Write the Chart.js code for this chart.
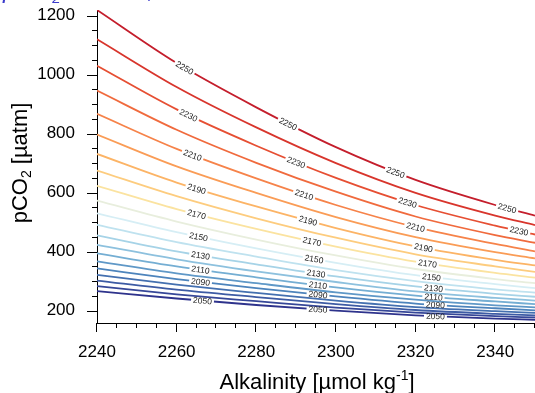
<!DOCTYPE html>
<html><head><meta charset="utf-8">
<script src="https://cdn.jsdelivr.net/npm/chart.js@4.4.0/dist/chart.umd.min.js"></script>
<style>html,body{margin:0;padding:0;background:#fff;overflow:hidden}#wrap{position:relative;width:535px;height:393px}canvas{display:block}</style>
</head><body><div id="wrap"><canvas id="c" width="535" height="393"></canvas></div>
<script>
// ---- data ----
const alkalinity = [2240, 2260, 2280, 2300, 2320, 2340, 2350];   // x samples, umol/kg
const dicLevels  = [2050, 2060, 2070, 2080, 2090, 2100, 2110, 2120, 2130, 2140,
                    2150, 2160, 2170, 2180, 2190, 2200, 2210, 2220, 2230, 2240, 2250];
const pco2_2050 = [266, 241, 219, 200, 184, 173, 169];
const pco2_2060 = [283, 255, 232, 210, 193, 181, 177];
const pco2_2070 = [302, 271, 246, 222, 202, 189, 184];
const pco2_2080 = [321, 288, 260, 234, 212, 198, 192];
const pco2_2090 = [343, 307, 276, 248, 224, 208, 201];
const pco2_2100 = [367, 326, 293, 262, 237, 218, 211];
const pco2_2110 = [394, 350, 313, 279, 251, 231, 222];
const pco2_2120 = [423, 374, 333, 297, 265, 243, 234];
const pco2_2130 = [455, 401, 357, 316, 282, 257, 247];
const pco2_2140 = [491, 432, 383, 337, 300, 272, 261];
const pco2_2150 = [530, 466, 411, 362, 320, 290, 276];
const pco2_2160 = [573, 502, 441, 387, 341, 307, 293];
const pco2_2170 = [623, 544, 477, 417, 366, 328, 312];
const pco2_2180 = [675, 588, 513, 447, 391, 350, 331];
const pco2_2190 = [731, 634, 553, 480, 418, 372, 353];
const pco2_2200 = [797, 689, 599, 517, 449, 398, 377];
const pco2_2210 = [867, 748, 648, 558, 483, 426, 401];
const pco2_2220 = [946, 813, 701, 603, 519, 456, 430];
const pco2_2230 = [1030, 882, 759, 650, 558, 488, 458];
const pco2_2240 = [1120, 958, 821, 700, 599, 522, 490];
const pco2_2250 = [1219, 1039, 889, 754, 643, 558, 522];
const seriesValues = [pco2_2050, pco2_2060, pco2_2070, pco2_2080, pco2_2090, pco2_2100,
  pco2_2110, pco2_2120, pco2_2130, pco2_2140, pco2_2150, pco2_2160, pco2_2170, pco2_2180,
  pco2_2190, pco2_2200, pco2_2210, pco2_2220, pco2_2230, pco2_2240, pco2_2250];

// contour labels: which levels carry labels and at which alkalinity
const labelLevels = [2250, 2230, 2210, 2190, 2170, 2150, 2130, 2110, 2090, 2050];
const labelAlk = [
  [2262, 2288, 2315, 2343],
  [2263, 2290, 2318, 2346],
  [2264, 2292, 2320],
  [2265, 2293, 2322],
  [2265, 2294, 2323],
  [2265.5, 2294.5, 2324],
  [2266, 2295, 2324.5],
  [2266, 2295.5, 2324.5],
  [2266, 2295.5, 2325],
  [2266.5, 2295.5, 2325]
];
const yTicks = [200, 400, 600, 800, 1000, 1200];
const xTicks = [2240, 2260, 2280, 2300, 2320, 2340];

// ---- styles ----
const lineColors = ['#2e338c','#364798','#3d5ba4','#4470b0','#4d84bc','#5f98c7','#74aed3',
  '#8dc1de','#a6d3e7','#bfe2ef','#d6eef5','#e8eedd','#fbe3a0','#fdcc7e','#fcb466',
  '#fa9c56','#f6834a','#f06a3d','#e64f33','#d8352c','#c41e2c'];
const FONT = '"Liberation Sans", Arial, Helvetica, sans-serif';
Chart.defaults.font.family = FONT;
Chart.defaults.color = '#000';

const datasets = dicLevels.map((d, i) => ({
  label: String(d),
  data: alkalinity.map((a, j) => ({x: a, y: seriesValues[i][j]})),
  borderColor: lineColors[i],
  borderWidth: 1.8,
  pointRadius: 0,
  fill: false,
  cubicInterpolationMode: 'monotone'
}));

function curvePoint(meta, px) {
  const pts = meta.data;
  for (let i = 0; i < pts.length - 1; i++) {
    const a = pts[i], b = pts[i + 1];
    if (px >= a.x && px <= b.x) {
      const c1x = a.cp2x ?? a.x, c1y = a.cp2y ?? a.y, c2x = b.cp1x ?? b.x, c2y = b.cp1y ?? b.y;
      const bx = t => { const u = 1 - t; return u*u*u*a.x + 3*u*u*t*c1x + 3*u*t*t*c2x + t*t*t*b.x; };
      let lo = 0, hi = 1;
      for (let k = 0; k < 40; k++) { const m = (lo + hi) / 2; if (bx(m) < px) lo = m; else hi = m; }
      const t = (lo + hi) / 2, u = 1 - t;
      const y = u*u*u*a.y + 3*u*u*t*c1y + 3*u*t*t*c2y + t*t*t*b.y;
      const dx = 3*u*u*(c1x-a.x) + 6*u*t*(c2x-c1x) + 3*t*t*(b.x-c2x);
      const dy = 3*u*u*(c1y-a.y) + 6*u*t*(c2y-c1y) + 3*t*t*(b.y-c2y);
      return {x: px, y: y, angle: Math.atan2(dy, dx)};
    }
  }
  return null;
}
const LABEL_FONT = '8.5px ' + FONT;
function labelItems(chart, dsIndex) {
  const li = labelLevels.indexOf(dicLevels[dsIndex]);
  if (li < 0) return [];
  const meta = chart.getDatasetMeta(dsIndex);
  meta.dataset.updateControlPoints(chart.chartArea, 'x');
  const xs = chart.scales.x;
  const ctx = chart.ctx;
  ctx.save(); ctx.font = LABEL_FONT;
  const tw = ctx.measureText(String(dicLevels[dsIndex])).width;
  ctx.restore();
  return labelAlk[li].map(a => {
    const p = curvePoint(meta, xs.getPixelForValue(a));
    return p ? Object.assign(p, {tw: tw, text: String(dicLevels[dsIndex])}) : null;
  }).filter(Boolean);
}

const contourLabels = {
  id: 'contourLabels',
  beforeDatasetDraw(chart, args) {
    const items = labelItems(chart, args.index);
    if (!items.length) return;
    const ctx = chart.ctx;
    ctx.save();
    ctx.beginPath();
    ctx.rect(0, 0, chart.width, chart.height);
    items.forEach(p => {
      const hw = p.tw / 2 + 2, hh = 5;
      const c = Math.cos(p.angle), s = Math.sin(p.angle);
      const pts = [[-hw,-hh],[hw,-hh],[hw,hh],[-hw,hh]].map(([u,v]) => [p.x + u*c - v*s, p.y + u*s + v*c]);
      ctx.moveTo(pts[0][0], pts[0][1]);
      for (let k = 1; k < 4; k++) ctx.lineTo(pts[k][0], pts[k][1]);
      ctx.closePath();
    });
    ctx.clip('evenodd');
    chart.$clipped = chart.$clipped || {};
    chart.$clipped[args.index] = true;
  },
  afterDatasetDraw(chart, args) {
    if (chart.$clipped && chart.$clipped[args.index]) {
      chart.ctx.restore();
      chart.$clipped[args.index] = false;
    }
  },
  afterDatasetsDraw(chart) {
    const ctx = chart.ctx;
    dicLevels.forEach((d, i) => {
      labelItems(chart, i).forEach(p => {
        ctx.save();
        ctx.translate(p.x, p.y);
        ctx.rotate(p.angle);
        ctx.font = LABEL_FONT;
        ctx.fillStyle = '#1a1a1a';
        ctx.textAlign = 'center';
        ctx.textBaseline = 'middle';
        ctx.fillText(p.text, 0, 0.5);
        ctx.restore();
      });
    });
  }
};

const decorations = {
  id: 'decorations',
  afterDraw(chart) {
    const ctx = chart.ctx;
    const xs = chart.scales.x, ys = chart.scales.y;
    const area = chart.chartArea;
    ctx.save();
    ctx.strokeStyle = '#000';
    ctx.lineWidth = 1;
    ctx.beginPath();
    for (let v = 200; v <= 1200; v += 50) {
      const y = Math.round(ys.getPixelForValue(v)) + 0.5;
      const len = (v % 200 === 0) ? 10 : 5;
      ctx.moveTo(area.left, y); ctx.lineTo(area.left - len, y);
    }
    for (let v = 2240; v <= 2350; v += 5) {
      const x = Math.round(xs.getPixelForValue(v)) - 0.5;
      const len = ((v - 2240) % 20 === 0) ? 9 : 5;
      ctx.moveTo(x, area.bottom); ctx.lineTo(x, area.bottom + len);
    }
    ctx.stroke();

    // y-axis title
    ctx.fillStyle = '#000';
    ctx.save();
    ctx.translate(21, 163);
    ctx.rotate(-Math.PI / 2);
    ctx.textBaseline = 'middle';
    const big = '22px ' + FONT, small = '14px ' + FONT;
    ctx.font = big; const w1 = ctx.measureText('pCO').width;
    ctx.font = small; const w2 = ctx.measureText('2').width;
    ctx.font = big; const w3 = ctx.measureText(' [\u00b5atm]').width;
    let x0 = -(w1 + w2 + w3) / 2;
    ctx.font = big; ctx.fillText('pCO', x0, 0);
    ctx.font = small; ctx.fillText('2', x0 + w1, 6);
    ctx.font = big; ctx.fillText(' [\u00b5atm]', x0 + w1 + w2, 0);
    ctx.restore();

    // x-axis title
    ctx.save();
    ctx.textBaseline = 'middle';
    ctx.font = big; const a1 = ctx.measureText('Alkalinity [\u00b5mol kg').width;
    ctx.font = small; const a2 = ctx.measureText('-1').width;
    ctx.font = big; const a3 = ctx.measureText(']').width;
    let xx = 317 - (a1 + a2 + a3) / 2;
    ctx.font = big; ctx.fillText('Alkalinity [\u00b5mol kg', xx, 383);
    ctx.font = small; ctx.fillText('-1', xx + a1, 376);
    ctx.font = big; ctx.fillText(']', xx + a1 + a2, 383);
    ctx.restore();

    // top title (mostly outside the picture)
    ctx.save();
    ctx.fillStyle = '#3b3bcc';
    ctx.textBaseline = 'alphabetic';
    const tb = 'italic 24px ' + FONT, ts = 'italic 15px ' + FONT;
    ctx.font = tb; const t1 = ctx.measureText('pCO').width;
    ctx.fillText('pCO', 3, -2);
    ctx.font = ts; const t2 = ctx.measureText('2').width;
    ctx.fillText('2', 3 + t1, 3);
    ctx.font = tb; ctx.fillText(' isolines, DIC', 3 + t1 + t2, -2);
    ctx.restore();
    ctx.restore();
  }
};

new Chart(document.getElementById('c'), {
  type: 'line',
  data: {datasets: datasets},
  options: {
    responsive: false,
    animation: false,
    devicePixelRatio: 1,
    layout: {padding: {top: 10, right: 0, bottom: 0, left: 0}},
    plugins: {legend: {display: false}, tooltip: {enabled: false}, title: {display: false}},
    scales: {
      x: {
        type: 'linear', min: 2240, max: 2350,
        afterFit: s => { s.height = 70; },
        afterBuildTicks: s => { s.ticks = xTicks.map(v => ({value: v})); },
        grid: {display: true, drawOnChartArea: false, drawTicks: true, tickLength: 19, tickColor: 'rgba(0,0,0,0)', color: 'rgba(0,0,0,0)'},
        border: {display: true, color: '#000', width: 1},
        ticks: {font: {size: 17, lineHeight: 1.2}, padding: 0, maxRotation: 0, autoSkip: false, color: '#000',
                callback: v => String(v)}
      },
      y: {
        type: 'linear', min: 158, max: 1219,
        afterFit: s => { s.width = 97; },
        afterBuildTicks: s => { s.ticks = yTicks.map(v => ({value: v})); },
        grid: {display: true, drawOnChartArea: false, drawTicks: true, tickLength: 22, tickColor: 'rgba(0,0,0,0)', color: 'rgba(0,0,0,0)'},
        border: {display: true, color: '#000', width: 1},
        ticks: {font: {size: 17, lineHeight: 1}, padding: 0, autoSkip: false, color: '#000',
                callback: v => String(v)}
      }
    }
  },
  plugins: [contourLabels, decorations]
});
</script>
</body></html>
